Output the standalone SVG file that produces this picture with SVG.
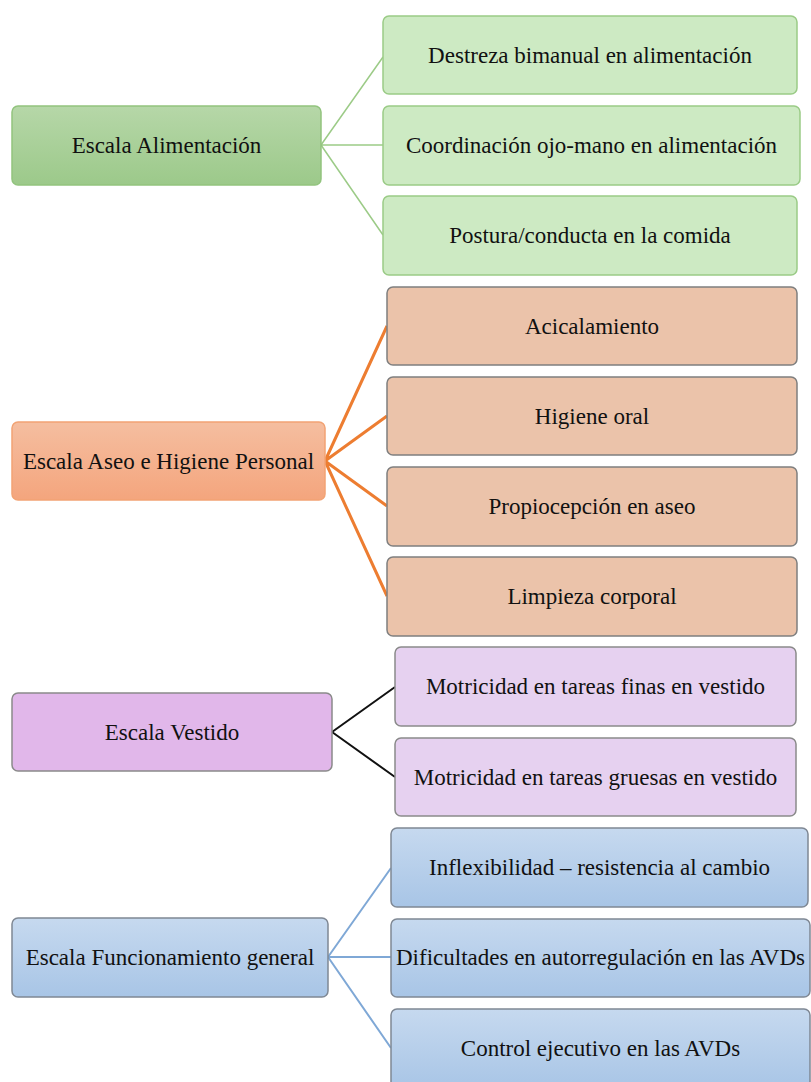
<svg xmlns="http://www.w3.org/2000/svg" width="811" height="1082" viewBox="0 0 811 1082">
<defs>
<linearGradient id="gGreen" x1="0" y1="0" x2="0" y2="1"><stop offset="0" stop-color="#B6D7A8"/><stop offset="1" stop-color="#9CC98A"/></linearGradient>
<linearGradient id="gOrange" x1="0" y1="0" x2="0" y2="1"><stop offset="0" stop-color="#F5BEA0"/><stop offset="1" stop-color="#F4A57D"/></linearGradient>
<linearGradient id="gBlue" x1="0" y1="0" x2="0" y2="1"><stop offset="0" stop-color="#C6D9EF"/><stop offset="1" stop-color="#A8C5E6"/></linearGradient>
</defs>
<style>
text{font-family:"Liberation Serif","Times New Roman",serif;font-size:23px;fill:#111;text-anchor:middle}
.pg{fill:url(#gGreen);stroke:#92C47E;stroke-width:1.5}
.cg{fill:#CDEAC3;stroke:#9ACB86;stroke-width:1.5}
.po{fill:url(#gOrange);stroke:#F2A374;stroke-width:1.5}
.co{fill:#EBC3AA;stroke:#7F7F7F;stroke-width:1.5}
.pp{fill:#E1B7EA;stroke:#8A8A8A;stroke-width:1.5}
.cp{fill:#E6D1F0;stroke:#8A8A8A;stroke-width:1.5}
.pb{fill:url(#gBlue);stroke:#7F8894;stroke-width:1.5}
.cb{fill:url(#gBlue);stroke:#7F8894;stroke-width:1.5}
.lg{stroke:#9CCB87;stroke-width:1.5;fill:none}
.lo{stroke:#ED7D31;stroke-width:3;fill:none}
.lp{stroke:#111;stroke-width:2;fill:none}
.lb{stroke:#7FA8D6;stroke-width:2;fill:none}
</style>
<g id="connectors">
<path class="lg" d="M321,145 L383,57 M321,145 L383,145 M321,145 L383,235"/>
<path class="lo" d="M325,461 L387,326 M325,461 L387,416 M325,461 L387,506 M325,461 L387,596"/>
<path class="lp" d="M332,732 L395,687 M332,732 L395,777"/>
<path class="lb" d="M328,957 L391,868 M328,957 L391,957 M328,957 L391,1048"/>
</g>
<g id="n-alimentacion"><rect class="pg" x="12" y="106" width="309" height="79" rx="6"/><text x="166.5" y="153">Escala Alimentación</text></g>
<g id="n-destreza"><rect class="cg" x="383" y="16" width="414" height="78" rx="6"/><text x="590" y="63">Destreza bimanual en alimentación</text></g>
<g id="n-coordinacion"><rect class="cg" x="383" y="106" width="417" height="79" rx="6"/><text x="591.5" y="153">Coordinación ojo-mano en alimentación</text></g>
<g id="n-postura"><rect class="cg" x="383" y="196" width="414" height="79" rx="6"/><text x="590" y="243">Postura/conducta en la comida</text></g>
<g id="n-aseo"><rect class="po" x="12" y="422" width="313" height="78" rx="6"/><text x="168.5" y="469">Escala Aseo e Higiene Personal</text></g>
<g id="n-acicalamiento"><rect class="co" x="387" y="287" width="410" height="78" rx="6"/><text x="592" y="334">Acicalamiento</text></g>
<g id="n-higiene"><rect class="co" x="387" y="377" width="410" height="78" rx="6"/><text x="592" y="424">Higiene oral</text></g>
<g id="n-propiocepcion"><rect class="co" x="387" y="467" width="410" height="79" rx="6"/><text x="592" y="514">Propiocepción en aseo</text></g>
<g id="n-limpieza"><rect class="co" x="387" y="557" width="410" height="79" rx="6"/><text x="592" y="604">Limpieza corporal</text></g>
<g id="n-vestido"><rect class="pp" x="12" y="693" width="320" height="78" rx="6"/><text x="172" y="740">Escala Vestido</text></g>
<g id="n-finas"><rect class="cp" x="395" y="647" width="401" height="79" rx="6"/><text x="595.5" y="694">Motricidad en tareas finas en vestido</text></g>
<g id="n-gruesas"><rect class="cp" x="395" y="738" width="401" height="78" rx="6"/><text x="595.5" y="785">Motricidad en tareas gruesas en vestido</text></g>
<g id="n-funcionamiento"><rect class="pb" x="12" y="918" width="316" height="79" rx="6"/><text x="170" y="965">Escala Funcionamiento general</text></g>
<g id="n-inflexibilidad"><rect class="cb" x="391" y="828" width="417" height="79" rx="6"/><text x="599.5" y="875">Inflexibilidad – resistencia al cambio</text></g>
<g id="n-dificultades"><rect class="cb" x="391" y="919" width="419" height="78" rx="6"/><text x="600.5" y="965">Dificultades en autorregulación en las AVDs</text></g>
<g id="n-control"><rect class="cb" x="391" y="1009" width="419" height="80" rx="6"/><text x="600.5" y="1056">Control ejecutivo en las AVDs</text></g>
</svg>
